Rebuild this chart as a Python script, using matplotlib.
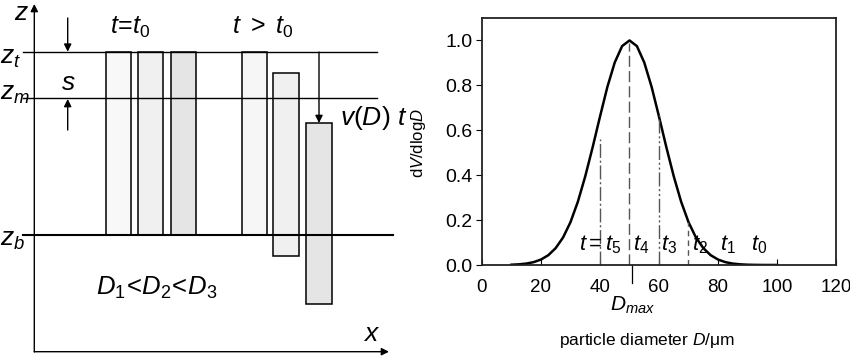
import matplotlib
matplotlib.use('Agg')
import matplotlib.pyplot as plt
from matplotlib.patches import Rectangle

plt.rcParams['font.family'] = ['Liberation Sans', 'DejaVu Sans']
plt.rcParams['mathtext.fontset'] = 'custom'
plt.rcParams['mathtext.rm'] = 'Liberation Sans'
plt.rcParams['mathtext.it'] = 'Liberation Sans:italic'
plt.rcParams['mathtext.bf'] = 'Liberation Sans:bold'

# ---- left sketch (pixel-like units, y grows downward) ----
level_names = ['$z_t$', '$z_m$', '$z_b$']
level_y = [51.7, 97.7, 235]
level_x_end = [377, 377, 393]
level_lw = [1.0, 1.0, 1.5]
label_base = [64, 100, 246]

col_x = [106, 138, 171, 242, 273, 306]
col_w = [25, 25, 25, 25, 26, 26]
col_top = [52, 52, 52, 52, 73, 123]
col_bottom = [235, 235, 235, 235, 256, 304]
col_fill = ['#f8f8f8', '#f0f0f0', '#e5e5e5', '#f6f6f6', '#f0f0f0', '#e5e5e5']

# ---- right chart ----
diam = [10, 12.5, 15, 17.5, 20, 22.5, 25, 27.5, 30, 32.5, 35, 37.5, 40, 42.5,
        45, 47.5, 50, 52.5, 55, 57.5, 60, 62.5, 65, 67.5, 70, 72.5, 75, 77.5,
        80, 82.5, 85, 87.5, 90, 92.5, 95, 97.5, 100]
dvdlogd = [0.0013, 0.003, 0.0063, 0.0127, 0.0243, 0.0439, 0.0756, 0.123, 0.191,
           0.282, 0.395, 0.524, 0.661, 0.793, 0.902, 0.975, 1.0, 0.975, 0.902,
           0.793, 0.661, 0.524, 0.395, 0.282, 0.191, 0.123, 0.0756, 0.0439,
           0.0243, 0.0127, 0.0063, 0.003, 0.0013, 0.0006, 0.0002, 0.0001, 0.0]
cut_x = [40, 50, 60, 70]
cut_top = [0.56, 0.99, 0.67, 0.19]
cut_dash = [(10, 2, 1.5, 2), (8, 3), (10, 2, 1.5, 2, 1.5, 2), (4, 3)]
t_labels = ['$t = t_{\\mathit{5}}$', '$t_{\\mathit{4}}$', '$t_{\\mathit{3}}$',
            '$t_{\\mathit{2}}$', '$t_{\\mathit{1}}$', '$t_{\\mathit{0}}$']
t_label_x = [40, 54, 63.5, 73.8, 83.5, 94]
d_max = 51

fig = plt.figure(figsize=(8.5, 3.58), dpi=100)

ax = fig.add_axes([0, 0, 420 / 850, 1])
ax.set_xlim(0, 420)
ax.set_ylim(358, 0)
ax.axis('off')

arr = dict(arrowstyle='-|>', color='black', lw=1.0, mutation_scale=11,
           shrinkA=0, shrinkB=0)
# axes arrows
ax.annotate('', xy=(34.3, 4), xytext=(34.3, 352), arrowprops=arr)
ax.annotate('', xy=(389, 351.7), xytext=(34.3, 351.7), arrowprops=arr)
ax.text(21, 13, '$z$', fontsize=19, ha='center', va='center')
ax.text(372, 334, '$x$', fontsize=19, ha='center', va='center')

for name, y, xe, lw, yb in zip(level_names, level_y, level_x_end, level_lw, label_base):
    ax.plot([23, xe], [y, y], color='black', lw=lw)
    ax.text(0, yb, name, fontsize=19, ha='left', va='baseline')

for x, w, t, b, c in zip(col_x, col_w, col_top, col_bottom, col_fill):
    ax.add_patch(Rectangle((x, t), w, b - t, facecolor=c, edgecolor='black', lw=1.1))

# s arrows
ax.annotate('', xy=(67.7, 51.7), xytext=(67.7, 18), arrowprops=arr)
ax.annotate('', xy=(67.7, 99), xytext=(67.7, 130), arrowprops=arr)
ax.text(68, 83, '$s$', fontsize=19, ha='center', va='center')

# settling arrow
ax.annotate('', xy=(319, 123), xytext=(319, 52), arrowprops=arr)

ax.text(130, 27, '$t\\!=\\!t_{\\mathit{0}}$', fontsize=18, ha='center', va='center')
ax.text(263, 27, '$t\\ >\\ t_{\\mathit{0}}$', fontsize=18, ha='center', va='center')
ax.text(340, 118, '$v(D)\\ t$', fontsize=19, ha='left', va='center')
ax.text(96, 288, '$D_{\\mathit{1}}\\!<\\!D_{\\mathit{2}}\\!<\\!D_{\\mathit{3}}$',
        fontsize=18.5, ha='left', va='center')

# ---- right axes ----
ax2 = fig.add_axes([482 / 850, 93 / 358, 354 / 850, 247 / 358])
ax2.plot(diam, dvdlogd, color='black', lw=1.8)
for x, top, d in zip(cut_x, cut_top, cut_dash):
    ax2.plot([x, x], [0, top], color='#555555', lw=1.0, dashes=d)
ax2.plot([d_max, d_max], [0, -0.08], color='black', lw=0.9, clip_on=False)
ax2.text(d_max, -0.18, '$D_{max}$', fontsize=15, ha='center', va='center')

for lab, x in zip(t_labels, t_label_x):
    ax2.text(x, 0.09, lab, fontsize=16, ha='center', va='center')

ax2.set_xlim(0, 120)
ax2.set_ylim(0, 1.1)
ax2.set_xticks(range(0, 121, 20))
ax2.set_yticks([0, 0.2, 0.4, 0.6, 0.8, 1.0])
ax2.set_yticklabels(['0.0', '0.2', '0.4', '0.6', '0.8', '1.0'])
ax2.tick_params(axis='x', direction='in', length=4, pad=10, labelsize=13.5)
ax2.tick_params(axis='y', direction='out', length=4, pad=3, labelsize=14)
for sp in ax2.spines.values():
    sp.set_color('#222222')
    sp.set_linewidth(1.3)

ax2.set_ylabel('d$V$/dlog$D$', fontsize=12)
ax2.yaxis.set_label_coords(-0.153, 0.494)
ax2.set_xlabel('particle diameter $D$/μm', fontsize=12.5)
ax2.xaxis.set_label_coords(0.466, -0.304)
ax2.xaxis.label.set_va('center')

fig.savefig('out.png', dpi=100)
